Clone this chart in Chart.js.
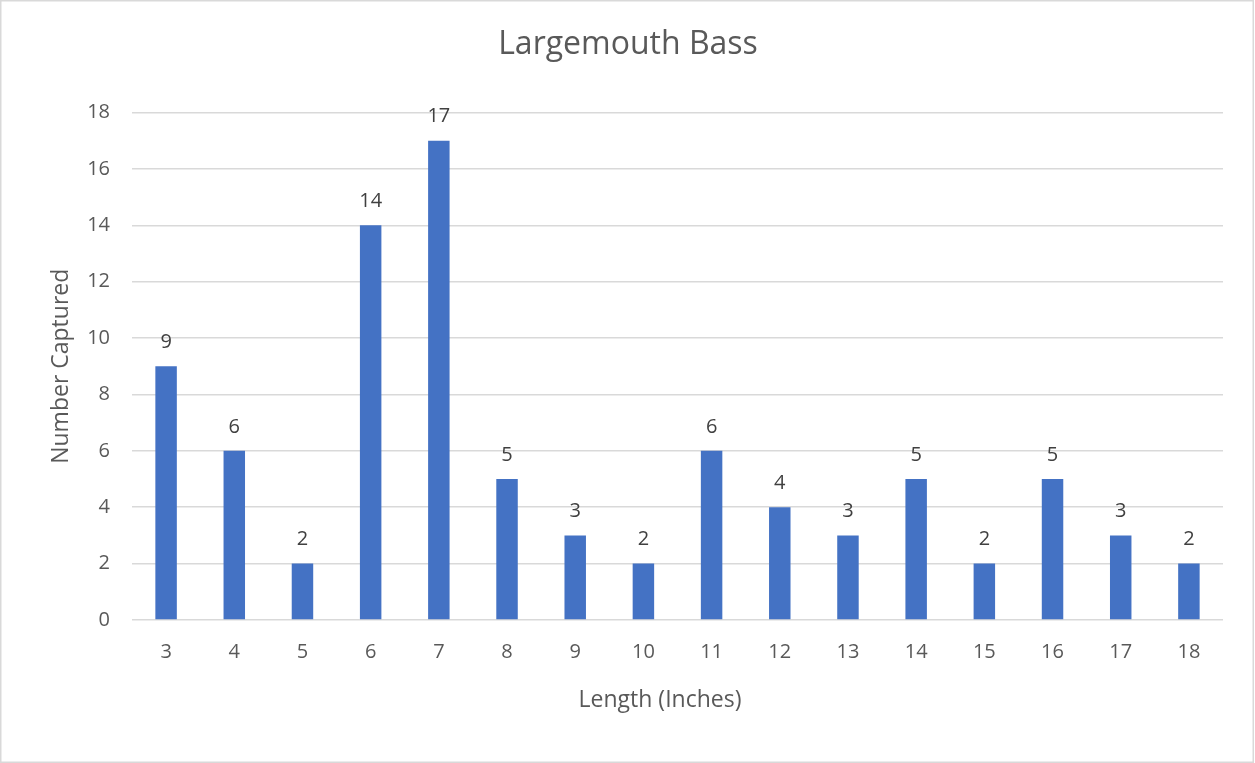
<!DOCTYPE html>
<html>
<head>
<meta charset="utf-8">
<script src="https://cdn.jsdelivr.net/npm/chart.js@4/dist/chart.umd.min.js"></script>
<style>
  html, body { margin: 0; padding: 0; background: #ffffff; }
  #wrap { position: relative; width: 1255px; height: 763px; }
</style>
</head>
<body>
<div id="wrap"><canvas id="c" width="1255" height="763"></canvas></div>
<script>
const chartTitle = "Largemouth Bass";
const xAxisTitle = "Length (Inches)";
const yAxisTitle = "Number Captured";
const categories = ["3","4","5","6","7","8","9","10","11","12","13","14","15","16","17","18"];
const captured = [9, 6, 2, 14, 17, 5, 3, 2, 6, 4, 3, 5, 2, 5, 3, 2];
const yTickValues = [0, 2, 4, 6, 8, 10, 12, 14, 16, 18];

const FONT = "'Open Sans', 'Liberation Sans', sans-serif";

const frame = {
  id: 'frame',
  beforeDraw(chart) {
    const ctx = chart.ctx;
    ctx.save();
    ctx.fillStyle = '#ffffff';
    ctx.fillRect(0, 0, chart.width, chart.height);
    ctx.strokeStyle = '#d9d9d9';
    ctx.lineWidth = 1.5;
    ctx.strokeRect(0.75, 0.75, 1252.5, 761.5);
    ctx.restore();
  }
};

const valueLabels = {
  id: 'valueLabels',
  afterDatasetsDraw(chart) {
    const ctx = chart.ctx;
    ctx.save();
    ctx.font = "20px " + FONT;
    ctx.fillStyle = '#404040';
    ctx.textAlign = 'center';
    ctx.textBaseline = 'middle';
    const meta = chart.getDatasetMeta(0);
    meta.data.forEach((bar, i) => {
      ctx.fillText(String(chart.data.datasets[0].data[i]), bar.x, bar.y - 24);
    });
    ctx.restore();
  }
};

const texts = {
  id: 'texts',
  afterDraw(chart) {
    const ctx = chart.ctx;
    ctx.save();
    ctx.fillStyle = '#595959';
    ctx.textAlign = 'center';
    ctx.textBaseline = 'middle';
    ctx.font = "32px " + FONT;
    ctx.fillText(chartTitle, 628, 45);
    ctx.font = "23px " + FONT;
    ctx.fillText(xAxisTitle, 660, 700);
    ctx.restore();
  }
};

new Chart(document.getElementById('c'), {
  type: 'bar',
  data: {
    labels: categories,
    datasets: [{
      data: captured,
      backgroundColor: '#4472c4',
      borderWidth: 0,
      categoryPercentage: 1.0,
      barPercentage: 0.315
    }]
  },
  options: {
    responsive: false,
    animation: false,
    layout: { padding: { left: 0, right: 32, top: 112.5, bottom: 0 } },
    plugins: {
      legend: { display: false },
      tooltip: { enabled: false },
      title: { display: false }
    },
    scales: {
      x: {
        grid: { display: false, drawTicks: false },
        border: { display: false },
        ticks: { color: '#595959', font: { family: FONT, size: 20 }, padding: 20, autoSkip: false, maxRotation: 0 },
        title: { display: false },
        afterFit(scale) { scale.height = 143; }
      },
      y: {
        min: 0,
        max: 18,
        afterBuildTicks(scale) { scale.ticks = yTickValues.map(v => ({ value: v })); },
        grid: { color: '#d9d9d9', lineWidth: 1.5, drawTicks: false },
        border: { display: false },
        ticks: { color: '#595959', font: { family: FONT, size: 20 }, padding: 22 },
        title: {
          display: true,
          text: yAxisTitle,
          color: '#595959',
          font: { family: FONT, size: 23, lineHeight: 1.2 },
          padding: { top: 48, bottom: 0 }
        },
        afterFit(scale) { scale.width = 132; }
      }
    }
  },
  plugins: [frame, valueLabels, texts]
});
</script>
</body>
</html>
